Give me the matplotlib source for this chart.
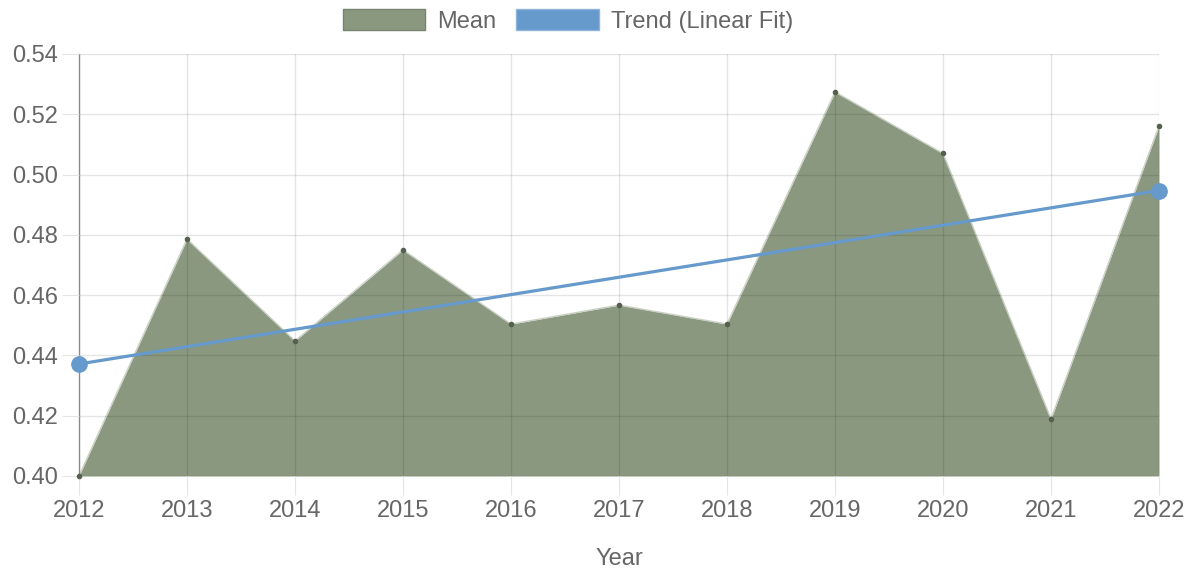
import numpy as np
from matplotlib import pyplot as plt
from matplotlib.patches import Rectangle

# data
years = [2012, 2013, 2014, 2015, 2016, 2017, 2018, 2019, 2020, 2021, 2022]
mean_values = [0.400, 0.4786, 0.4448, 0.4750, 0.4504, 0.4567, 0.4504, 0.5274, 0.5070, 0.4189, 0.5161]
y_ticks = [0.40, 0.42, 0.44, 0.46, 0.48, 0.50, 0.52, 0.54]

fill_color = '#8a9880'
trend_color = '#6699cc'
text_color = '#666666'

plt.rcParams['font.family'] = ['Liberation Sans', 'DejaVu Sans']

fig = plt.figure(figsize=(11.95, 5.71), dpi=100)
W, H = 1195, 571
ax = fig.add_axes([79 / W, 95 / H, (1159 - 79) / W, (476 - 54) / H])

# linear fit of the mean series (trend)
x = np.array(years, dtype=float)
y = np.array(mean_values)
slope, intercept = np.polyfit(x, y, 1)
trend_x = [years[0], years[-1]]
trend_y = [slope * years[0] + intercept, slope * years[-1] + intercept]

ax.fill_between(years, y_ticks[0], mean_values, color=fill_color, lw=0, zorder=1)
ax.plot(years, mean_values, color='#c9d0c3', lw=1, zorder=1.5)
ax.plot(years, mean_values, 'o', color='#55604d', ms=3, zorder=3, clip_on=False)
ax.plot(trend_x, trend_y, '-o', color=trend_color, lw=2.3, ms=11, zorder=4, clip_on=False)

ax.set_xlim(years[0], years[-1])
ax.set_ylim(y_ticks[0], y_ticks[-1])
ax.set_xticks(years)
ax.set_yticks(y_ticks)
ax.set_yticklabels(['%.2f' % v for v in y_ticks])

ax.set_axisbelow(False)
ax.grid(True, color='black', alpha=0.1, lw=1)
for s in ['top', 'right', 'bottom']:
    ax.spines[s].set_visible(False)
ax.spines['left'].set_color('#999999')
ax.spines['left'].set_linewidth(1)

ax.tick_params(axis='both', color='#e5e5e5', labelcolor=text_color, labelsize=17)
ax.tick_params(axis='y', length=12, pad=3)
ax.tick_params(axis='x', length=14, pad=3)

ax.set_xlabel('Year', fontsize=17, color=text_color, labelpad=19)

# legend
handles = [Rectangle((0, 0), 1, 1, facecolor=fill_color, edgecolor='#76846c', lw=1),
           Rectangle((0, 0), 1, 1, facecolor=trend_color, edgecolor='#8fb5dc', lw=1)]
leg = fig.legend(handles, ['Mean', 'Trend (Linear Fit)'], loc='center',
                 bbox_to_anchor=(568 / W, 1 - 21 / H), ncol=2, frameon=False,
                 fontsize=17, handlelength=3.5, handleheight=1.0,
                 handletextpad=0.5, columnspacing=0.85, borderpad=0)
for t in leg.get_texts():
    t.set_color(text_color)

fig.savefig('out.png', dpi=100)
